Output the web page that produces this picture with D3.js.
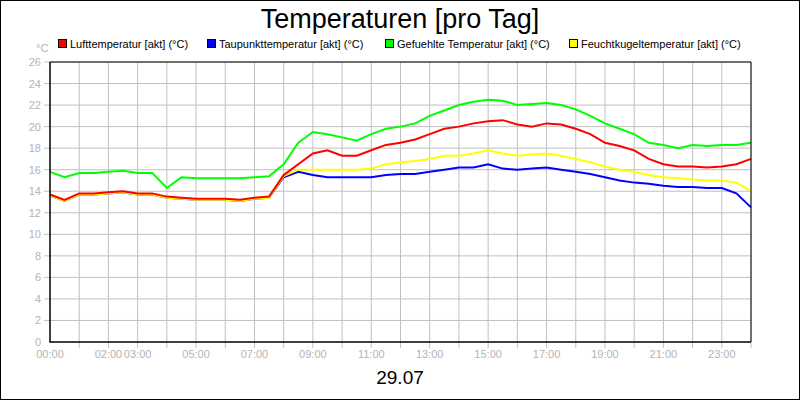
<!DOCTYPE html>
<html><head><meta charset="utf-8">
<script src="https://cdn.jsdelivr.net/npm/d3@7"></script>
<style>body{margin:0;background:#fff}svg{font-family:"Liberation Sans",Arial,sans-serif}</style>
</head><body><svg width="800" height="400"></svg>
<script>
// half-hour steps 0..24h
const hours = d3.range(0, 24.01, 0.5);
const luft = [13.7,13.2,13.8,13.8,13.9,14.0,13.8,13.8,13.5,13.4,13.3,13.3,13.3,13.2,13.4,13.5,15.5,16.5,17.5,17.8,17.3,17.3,17.8,18.3,18.5,18.8,19.3,19.8,20.0,20.3,20.5,20.6,20.2,20.0,20.3,20.2,19.8,19.3,18.5,18.2,17.8,17.0,16.5,16.3,16.3,16.2,16.3,16.5,17.0];
const taupunkt = [13.6,13.1,13.7,13.7,13.8,13.9,13.7,13.7,13.4,13.3,13.2,13.2,13.2,13.1,13.3,13.4,15.3,15.8,15.5,15.3,15.3,15.3,15.3,15.5,15.6,15.6,15.8,16.0,16.2,16.2,16.5,16.1,16.0,16.1,16.2,16.0,15.8,15.6,15.3,15.0,14.8,14.7,14.5,14.4,14.4,14.3,14.3,13.8,12.5];
const gefuehlt = [15.8,15.3,15.7,15.7,15.8,15.9,15.7,15.7,14.3,15.3,15.2,15.2,15.2,15.2,15.3,15.4,16.5,18.5,19.5,19.3,19.0,18.7,19.3,19.8,20.0,20.3,21.0,21.5,22.0,22.3,22.5,22.4,22.0,22.1,22.2,22.0,21.6,21.0,20.3,19.8,19.3,18.5,18.3,18.0,18.3,18.2,18.3,18.3,18.5];
const feucht = [13.6,13.1,13.7,13.7,13.8,13.9,13.7,13.7,13.4,13.3,13.2,13.2,13.2,13.1,13.3,13.4,15.4,16.0,16.0,16.0,16.0,16.0,16.1,16.5,16.7,16.8,17.0,17.3,17.3,17.5,17.8,17.5,17.3,17.4,17.5,17.3,17.0,16.7,16.3,16.0,15.8,15.5,15.3,15.2,15.1,15.0,15.0,14.8,14.0];
const seriesNames = ["Lufttemperatur [akt] (°C)","Taupunkttemperatur [akt] (°C)","Gefuehlte Temperatur [akt] (°C)","Feuchtkugeltemperatur [akt] (°C)"];
const seriesColors = ["#ff0000","#0000ff","#00ff00","#ffff00"];
const tickHours = [0,2,3,5,7,9,11,13,15,17,19,21,23];
const yTicks = d3.range(0, 27, 2);

const svg = d3.select("svg");
svg.append("rect").attr("x",0.5).attr("y",0.5).attr("width",799).attr("height",399)
    .attr("fill","none").attr("stroke","#000");

const x = d3.scaleLinear().domain([0,24]).range([50,751]);
const y = d3.scaleLinear().domain([0,26]).range([342,62]);

const grid = svg.append("g").attr("stroke","#c0c0c0");
grid.selectAll(".vx").data(d3.range(1,25)).join("line")
    .attr("x1",d=>x(d)).attr("x2",d=>x(d)).attr("y1",62).attr("y2",348);
grid.selectAll(".hy").data(yTicks.slice(1)).join("line")
    .attr("x1",44).attr("x2",751).attr("y1",d=>y(d)).attr("y2",d=>y(d));

svg.append("g").attr("fill","#b4b4b4").attr("font-size",11).attr("text-anchor","end")
    .selectAll("text").data(yTicks).join("text")
    .attr("x",41).attr("y",d=>y(d)+4).text(d=>d);
svg.append("text").attr("x",36).attr("y",52).attr("fill","#b4b4b4").attr("font-size",11).text("°C");
svg.append("g").attr("fill","#b4b4b4").attr("font-size",11).attr("text-anchor","middle")
    .selectAll("text").data(tickHours).join("text")
    .attr("x",d=>x(d)).attr("y",358).text(d=>String(d).padStart(2,"0")+":00");

const line = d3.line().x((d,i)=>x(hours[i])).y(d=>y(d));
const drawOrder = [[gefuehlt,2],[taupunkt,1],[feucht,3],[luft,0]];
drawOrder.forEach(([vals,k])=>{
    svg.append("path").attr("d",line(vals)).attr("fill","none")
        .attr("stroke",seriesColors[k]).attr("stroke-width",2);
});

svg.append("path").attr("d",`M50,62V342H751`).attr("fill","none").attr("stroke","#000").attr("stroke-width",1.5);
svg.append("path").attr("d",`M751,62V342`).attr("fill","none").attr("stroke","#000").attr("stroke-width",1);
svg.append("path").attr("d",`M50,62H751`).attr("fill","none").attr("stroke","#000").attr("stroke-width",1);

const legX = [58,207,385,569];
const leg = svg.append("g").attr("font-size",11);
seriesNames.forEach((n,i)=>{
    leg.append("rect").attr("x",legX[i]+0.5).attr("y",39.5).attr("width",8).attr("height",8)
        .attr("fill",seriesColors[i]).attr("stroke","#000");
    leg.append("text").attr("x",legX[i]+12).attr("y",48).text(n);
});

svg.append("text").attr("x",400).attr("y",28).attr("text-anchor","middle").attr("font-size",27).text("Temperaturen [pro Tag]");
svg.append("text").attr("x",400).attr("y",384).attr("text-anchor","middle").attr("font-size",19).text("29.07");
</script></body></html>
